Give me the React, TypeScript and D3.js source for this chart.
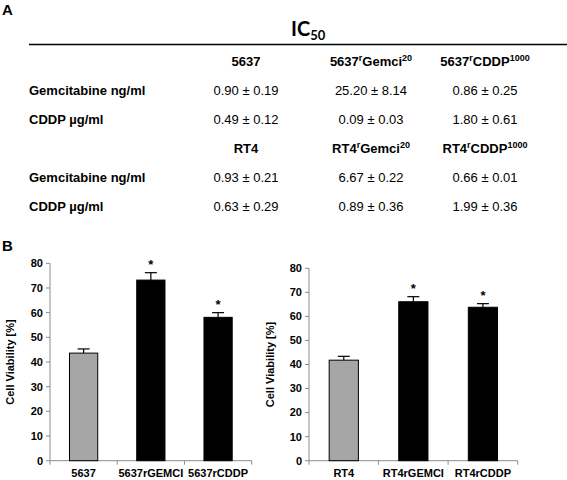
import React from "react";
import * as d3 from "d3";

// ---- Table data (panel A) ----
const headerPrefixTop = "5637";
const headerPrefixBottom = "RT4";
const headerMid = ["", "Gemci", "CDDP"];
const headerSup = ["", "20", "1000"];
const rowLabels = ["Gemcitabine ng/ml", "CDDP µg/ml"];
const values5637 = [
  ["0.90 ± 0.19", "25.20 ± 8.14", "0.86 ± 0.25"],
  ["0.49 ± 0.12", "0.09 ± 0.03", "1.80 ± 0.61"],
];
const valuesRT4 = [
  ["0.93 ± 0.21", "6.67 ± 0.22", "0.66 ± 0.01"],
  ["0.63 ± 0.29", "0.89 ± 0.36", "1.99 ± 0.36"],
];

// ---- Bar data (panel B) ----
const cats5637 = ["5637", "5637rGEMCI", "5637rCDDP"];
const vals5637 = [43.6, 73.2, 58.1];
const err5637 = [1.7, 3.0, 1.9];
const sig5637 = [false, true, true];

const catsRT4 = ["RT4", "RT4rGEMCI", "RT4rCDDP"];
const valsRT4 = [41.8, 66.1, 63.8];
const errRT4 = [1.6, 2.1, 1.5];
const sigRT4 = [false, true, true];

const yTicks = [0, 10, 20, 30, 40, 50, 60, 70, 80];

const FONT = "'Liberation Sans', Arial, Helvetica, sans-serif";

type BarProps = {
  cats: string[];
  vals: number[];
  errs: number[];
  sigs: boolean[];
  x0: number;
  x1: number;
  yBottom: number;
  yTop: number;
  labelX: number;
};

function BarChart({ cats, vals, errs, sigs, x0, x1, yBottom, yTop, labelX }: BarProps) {
  const x = d3.scaleBand<string>().domain(cats).range([x0, x1]).padding(0);
  const y = d3.scaleLinear().domain([0, 80]).range([yBottom, yTop]);
  const bw = x.bandwidth() * 0.42;
  const axisColor = "#8c8c8c";
  const boundaries = [...cats.map((c) => x(c) as number), x1];
  return (
    <g>
      {/* y axis */}
      <line x1={x0} x2={x0} y1={y(80)} y2={y(0)} stroke={axisColor} strokeWidth={1} />
      {yTicks.map((t) => (
        <g key={t}>
          <line x1={x0 - 4} x2={x0} y1={y(t)} y2={y(t)} stroke={axisColor} strokeWidth={1} />
          <text x={x0 - 7} y={y(t)} dy="0.35em" textAnchor="end" fontSize={11} fontWeight="bold" fontFamily={FONT}>
            {t}
          </text>
        </g>
      ))}
      {/* x axis */}
      <line x1={x0} x2={x1} y1={y(0)} y2={y(0)} stroke={axisColor} strokeWidth={1} />
      {boundaries.map((b, i) => (
        <line key={i} x1={b} x2={b} y1={y(0)} y2={y(0) + 4} stroke={axisColor} strokeWidth={1} />
      ))}
      {cats.map((c, i) => {
        const cx = (x(c) as number) + x.bandwidth() / 2;
        const top = y(vals[i] + errs[i]);
        return (
          <g key={c}>
            <rect
              x={cx - bw / 2}
              y={y(vals[i])}
              width={bw}
              height={y(0) - y(vals[i])}
              fill={i === 0 ? "#a6a6a6" : "#000"}
              stroke="#000"
              strokeWidth={1}
            />
            <line x1={cx} x2={cx} y1={y(vals[i])} y2={top} stroke="#000" strokeWidth={1.2} />
            <line x1={cx - 6} x2={cx + 6} y1={top} y2={top} stroke="#000" strokeWidth={1.2} />
            {sigs[i] && (
              <text x={cx} y={top - 4} textAnchor="middle" fontSize={13} fontWeight="bold" fontFamily={FONT}>
                *
              </text>
            )}
            <text x={cx} y={477} textAnchor="middle" fontSize={11} fontWeight="bold" fontFamily={FONT}>
              {c}
            </text>
          </g>
        );
      })}
      <text
        transform={`translate(${labelX},${(y(0) + y(80)) / 2}) rotate(-90)`}
        textAnchor="middle"
        fontSize={11}
        fontWeight="bold"
        fontFamily={FONT}
      >
        Cell Viability [%]
      </text>
    </g>
  );
}

function Header({ prefix, idx, x, y }: { prefix: string; idx: number; x: number; y: number }) {
  return (
    <text x={x} y={y} textAnchor="middle" fontSize={13} fontWeight="bold" fontFamily={FONT}>
      {prefix}
      {idx > 0 && (
        <>
          <tspan fontSize={9} dy={-5}>r</tspan>
          <tspan dy={5}>{headerMid[idx]}</tspan>
          <tspan fontSize={9} dy={-5}>{headerSup[idx]}</tspan>
        </>
      )}
    </text>
  );
}

export default function App() {
  const colX = [246, 371, 485];
  const labelX = 29;
  const blocks = [
    { prefix: headerPrefixTop, vals: values5637, yHead: 66 },
    { prefix: headerPrefixBottom, vals: valuesRT4, yHead: 153 },
  ];
  return (
    <svg width={567} height={480} style={{ position: "absolute", left: 0, top: 0, background: "#fff" }}>
      <text x={2} y={15} fontSize={15} fontWeight="bold" fontFamily={FONT}>A</text>
      <text x={2} y={251} fontSize={15} fontWeight="bold" fontFamily={FONT}>B</text>

      <text x={291} y={36} fontSize={20} fontWeight="bold" fontFamily="Lato, 'Open Sans', sans-serif">
        IC
        <tspan fontSize={13} dy={4}>50</tspan>
      </text>
      <line x1={29} x2={567} y1={44.5} y2={44.5} stroke="#000" strokeWidth={1.5} />

      {blocks.map((b, bi) => (
        <g key={bi}>
          {colX.map((cx, ci) => (
            <Header key={ci} prefix={b.prefix} idx={ci} x={cx} y={b.yHead} />
          ))}
          {rowLabels.map((rl, ri) => {
            const yy = b.yHead + 29 * (ri + 1) - (ri === 0 ? 0 : 0.5);
            return (
              <g key={ri}>
                <text x={labelX} y={yy} fontSize={13} fontWeight="bold" fontFamily={FONT}>
                  {rl}
                </text>
                {b.vals[ri].map((v, ci) => (
                  <text key={ci} x={colX[ci]} y={yy} textAnchor="middle" fontSize={13} fontFamily={FONT}>
                    {v}
                  </text>
                ))}
              </g>
            );
          })}
        </g>
      ))}

      <BarChart
        cats={cats5637}
        vals={vals5637}
        errs={err5637}
        sigs={sig5637}
        x0={50}
        x1={251.7}
        yBottom={460.7}
        yTop={263.3}
        labelX={14}
      />
      <BarChart
        cats={catsRT4}
        vals={valsRT4}
        errs={errRT4}
        sigs={sigRT4}
        x0={309}
        x1={517.7}
        yBottom={460.7}
        yTop={268.3}
        labelX={274}
      />
    </svg>
  );
}
